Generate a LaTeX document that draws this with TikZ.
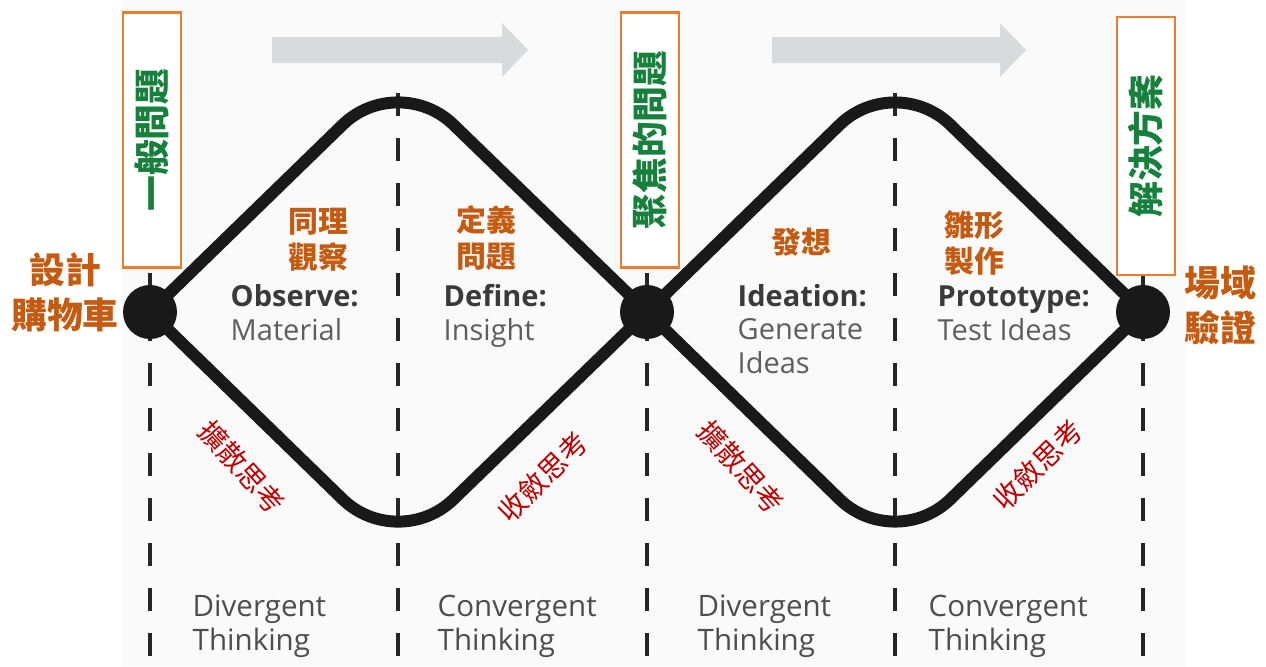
\documentclass[tikz,border=0pt]{standalone}
\usepackage{fontspec}
\setmainfont{Open Sans}
\newfontfamily\cjk{Noto Sans CJK TC}
\usepackage{xcolor}
\definecolor{boxorange}{HTML}{ED7D31}
\definecolor{labelorange}{HTML}{C55A11}
\definecolor{stepgreen}{HTML}{16803C}
\definecolor{thinkred}{HTML}{C00000}
\definecolor{arrowgray}{HTML}{D9DADC}
\definecolor{headgray}{HTML}{3A3A3A}
\definecolor{bodygray}{HTML}{5E5E5E}

\tikzset{
  phaseline/.style={line width=1.1pt, black!85, dash pattern=on 6.5pt off 6.3pt},
  wave/.style={line width=3.4pt, black!90, rounded corners=7.7mm},
  hubdot/.style={circle, fill=black!90, minimum size=5.4mm, inner sep=0pt},
  phasebox/.style={draw=boxorange, line width=0.6pt, fill=white, rotate=90,
    minimum width=25.5mm, minimum height=5.8mm, inner sep=0pt,
    font=\cjk\bfseries\fontsize{10.2}{12}\selectfont, text=stepgreen},
  hublabel/.style={align=center, inner sep=0pt, text=labelorange,
    font=\cjk\bfseries\fontsize{10.2}{12.8}\selectfont},
  steplabel/.style={align=center, inner sep=0pt, text=labelorange,
    font=\cjk\bfseries\fontsize{8.5}{10.2}\selectfont},
  thinklabel/.style={inner sep=0pt, text=thinkred,
    font=\cjk\fontsize{8}{9.6}\selectfont},
  stagetext/.style={anchor=base west, align=left, inner sep=0pt, text=bodygray,
    font=\fontsize{8.25}{9.4}\selectfont},
  modetext/.style={anchor=base west, align=left, inner sep=0pt, text=headgray!90,
    font=\fontsize{8.4}{9.4}\selectfont}
}
\newcommand\stagehead[1]{{\bfseries\color{headgray}#1}}

\begin{document}
\begin{tikzpicture}[x=0.1mm, y=-0.1mm]
  \useasboundingbox (0,0) rectangle (1266,666);
  % Backdrop
  \fill[black!2] (122,0) rectangle (1186,666);

  % Progress arrows
  \fill[arrowgray] (272,37) -- (502,37) -- (502,23) -- (528,50) -- (502,77) -- (502,63) -- (272,63) -- cycle;
  \fill[arrowgray] (772,37) -- (1000,37) -- (1000,23) -- (1026,50) -- (1000,77) -- (1000,63) -- (772,63) -- cycle;

  % Phase lines
  \foreach \x in {150,398,647,895,1143}
    \draw[phaseline] (\x,93) -- (\x,666);

  % Double diamond
  \node[hubdot] (start) at (150,312) {};
  \node[hubdot] (focus) at (647,312) {};
  \node[hubdot] (finish) at (1143,312) {};
  \coordinate (peakA) at (398,71);
  \coordinate (dipA) at (398,553);
  \coordinate (peakB) at (895,71);
  \coordinate (dipB) at (895,553);
  \draw[wave] (start.center) -- (peakA) -- (focus.center);
  \draw[wave] (start.center) -- (dipA) -- (focus.center);
  \draw[wave] (focus.center) -- (peakB) -- (finish.center);
  \draw[wave] (focus.center) -- (dipB) -- (finish.center);

  % Problem / solution boxes
  \node[phasebox] (general) at (152,140) {一般問題};
  \node[phasebox] (focused) at (650,140) {聚焦的問題};
  \node[phasebox, minimum width=25.8mm] (solution) at (1146,146) {解決方案};

  % Hub labels
  \node[hublabel] (cart) at (65,292) {設計\\購物車};
  \node[hublabel] (field) at (1220,305) {場域\\驗證};

  % Step labels
  \node[steplabel] (empathy) at (318,240) {同理\\觀察};
  \node[steplabel] (define) at (486,238) {定義\\問題};
  \node[steplabel] (ideate) at (801,242) {發想};
  \node[steplabel] (proto) at (974,243) {雛形\\製作};

  % Thinking modes along the lines
  \node[thinklabel, rotate=-48] (divA) at (242,467) {擴散思考};
  \node[thinklabel, rotate=45] (conA) at (543,477) {收斂思考};
  \node[thinklabel, rotate=-48] (divB) at (741,467) {擴散思考};
  \node[thinklabel, rotate=45] (conB) at (1038,465) {收斂思考};

  % Stage captions (anchored at the last line)
  \node[stagetext] (observe) at (230,340) {\stagehead{Observe:}\\Material};
  \node[stagetext] (insight) at (443,340) {\stagehead{Define:}\\Insight};
  \node[stagetext] (ideas) at (737,373) {\stagehead{Ideation:}\\Generate\\Ideas};
  \node[stagetext] (test) at (937,340) {\stagehead{Prototype:}\\Test Ideas};

  % Bottom captions
  \node[modetext] (divtextA) at (192,650) {Divergent\\Thinking};
  \node[modetext] (contextA) at (437,650) {Convergent\\Thinking};
  \node[modetext] (divtextB) at (697,650) {Divergent\\Thinking};
  \node[modetext] (contextB) at (928,650) {Convergent\\Thinking};
\end{tikzpicture}
\end{document}
